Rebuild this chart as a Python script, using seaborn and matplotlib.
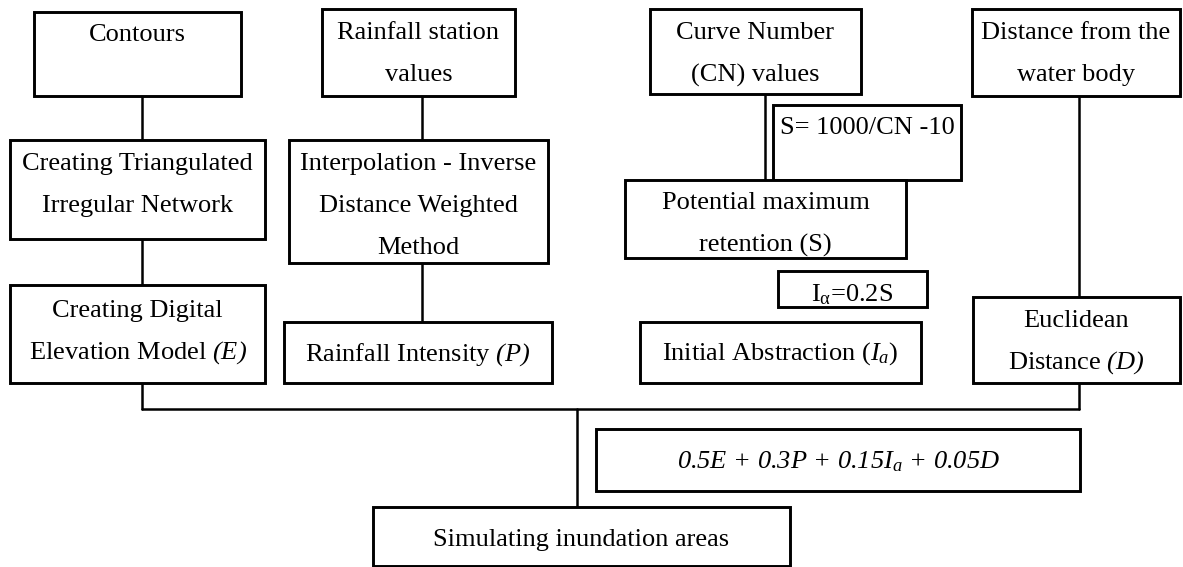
import matplotlib
matplotlib.use("Agg")
import matplotlib.pyplot as plt
from matplotlib.patches import Rectangle
import seaborn as sns
import pandas as pd

sns.set_style("white")
plt.rcParams['font.family'] = ['Liberation Serif', 'DejaVu Serif']
plt.rcParams['text.color'] = 'black'
plt.rcParams['mathtext.fontset'] = 'custom'
plt.rcParams['mathtext.rm'] = 'Liberation Serif'
plt.rcParams['mathtext.it'] = 'Liberation Serif:italic'
plt.rcParams['mathtext.sf'] = 'Liberation Serif:italic'  # used for italic brackets
plt.rcParams['mathtext.bf'] = 'Liberation Serif:bold'

# text of each node, one entry per line
labels = [
    ["Contours"],
    ["Rainfall station", "values"],
    ["Curve Number", "(CN) values"],
    ["Distance from the", "water body"],
    ["Creating Triangulated", "Irregular Network"],
    ["Interpolation - Inverse", "Distance Weighted", "Method"],
    ["S= 1000/CN -10"],
    ["Potential maximum", "retention (S)"],
    [r"I$_{\mathrm{\alpha}}$=0.2S"],
    ["Creating Digital", r"Elevation Model $\mathsf{(E)}$"],
    [r"Rainfall Intensity $\mathsf{(P)}$"],
    [r"Initial Abstraction ($I_a$)"],
    ["Euclidean", r"Distance $\mathsf{(D)}$"],
    [r"0.5E + 0.3P + 0.15I$_a$ + 0.05D"],
    ["Simulating inundation areas"],
]
italic_node = [False] * 13 + [True, False]

# box layout in pixels (x0, y0, x1, y1), y measured from the top
boxes = [
    (34, 12, 241, 96),
    (322, 9, 515, 96),
    (650, 9, 861, 94),
    (972, 9, 1180, 96),
    (10, 140, 265, 239),
    (289, 140, 548, 263),
    (773, 105, 961, 180),
    (625, 180, 906, 258),
    (778, 271, 927, 307),
    (10, 285, 265, 383),
    (284, 322, 552, 383),
    (640, 322, 921, 383),
    (973, 297, 1180, 383),
    (596, 429, 1080, 491),
    (373, 507, 790, 566),
]
first_line_y = [35, 33, 33, 33, 164, 164, 128, 203, 295, 311, 355, 354, 321, 462, 540]
line_gap = 42

# connector segments: x0, y0, x1, y1
links = [
    (142, 96, 142, 140),
    (142, 239, 142, 285),
    (422, 96, 422, 140),
    (422, 263, 422, 322),
    (765, 94, 765, 180),
    (1079, 96, 1079, 297),
    (142, 383, 142, 409),
    (1079, 383, 1079, 409),
    (142, 409, 1079, 409),
    (577, 409, 577, 507),
]

rows = []
for i, (x0, y0, x1, y1) in enumerate(links):
    rows.append({'seg': i, 'x': x0, 'y': y0})
    rows.append({'seg': i, 'x': x1, 'y': y1})
seg_df = pd.DataFrame(rows)

fig = plt.figure(figsize=(11.83, 5.67), dpi=100)
ax = fig.add_axes([0, 0, 1, 1])

sns.lineplot(data=seg_df, x='x', y='y', units='seg', estimator=None, sort=False,
             color='black', lw=1.8, ax=ax)

for (x0, y0, x1, y1), lines, ty, it in zip(boxes, labels, first_line_y, italic_node):
    ax.add_patch(Rectangle((x0, y0), x1 - x0, y1 - y0, fill=True, fc='white',
                           ec='black', lw=2.1, zorder=3))
    for k, line in enumerate(lines):
        ax.text((x0 + x1) / 2, ty + k * line_gap, line, ha='center', va='center',
                fontsize=19, color='black', style='italic' if it else 'normal',
                zorder=4)

ax.set_xlim(0, 1183)
ax.set_ylim(567, 0)
ax.axis('off')

fig.savefig('out.png', dpi=100)
